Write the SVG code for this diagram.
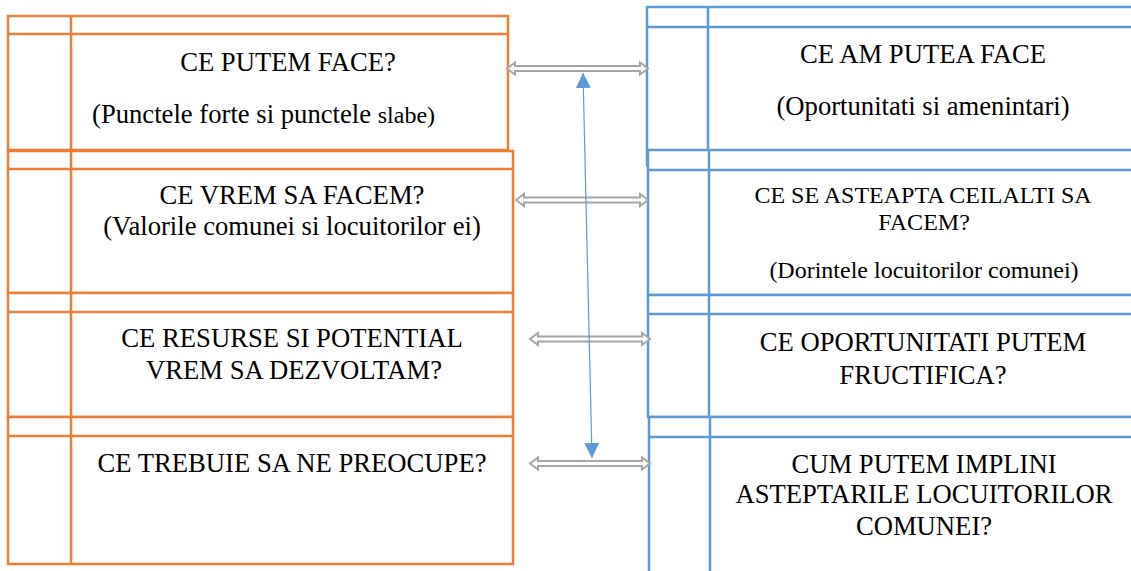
<svg xmlns="http://www.w3.org/2000/svg" width="1131" height="571" viewBox="0 0 1131 571">
<style>
.o{fill:#fff;stroke:#ED7D31;stroke-width:2.5}
.ol{stroke:#ED7D31;stroke-width:2.5}
.b{fill:#fff;stroke:#5B9BD5;stroke-width:2.5}
.bl{stroke:#5B9BD5;stroke-width:2.5}
text{font-family:'Liberation Serif','Tinos','Times New Roman','Nimbus Roman','DejaVu Serif',serif;font-size:26.67px;fill:#000;text-anchor:middle}
.s{font-size:24px}
.ga{fill:#fff;stroke:#A5A5A5;stroke-width:2;stroke-linejoin:miter}
</style>
<defs>
<marker id="tri" viewBox="0 0 15 15" refX="15" refY="7.5" markerWidth="15" markerHeight="15" markerUnits="userSpaceOnUse" orient="auto-start-reverse">
<path d="M0,0 L15,7.5 L0,15 z" fill="#5B9BD5"/>
</marker>
</defs>
<rect width="1131" height="571" fill="#fff"/>
<g id="L1">
<rect class="o" x="8" y="16" width="500" height="134"/>
<line class="ol" x1="8" y1="34" x2="508" y2="34"/>
<line class="ol" x1="71" y1="16" x2="71" y2="150"/>
<text x="288" y="71" font-family="Liberation Serif, serif">CE PUTEM FACE?</text>
<text x="92" y="123" style="text-anchor:start">(Punctele forte si punctele <tspan class="s">slabe)</tspan></text>
</g>
<g id="L2">
<rect class="o" x="8" y="151" width="505" height="142"/>
<line class="ol" x1="8" y1="169" x2="513" y2="169"/>
<line class="ol" x1="71" y1="151" x2="71" y2="293"/>
<text x="292" y="204">CE VREM SA FACEM?</text>
<text x="292" y="235">(Valorile comunei si locuitorilor ei)</text>
</g>
<g id="L3">
<rect class="o" x="8" y="293" width="505" height="124"/>
<line class="ol" x1="8" y1="312" x2="513" y2="312"/>
<line class="ol" x1="71" y1="293" x2="71" y2="417"/>
<text x="292" y="347">CE RESURSE SI POTENTIAL</text>
<text x="294" y="379">VREM SA DEZVOLTAM?</text>
</g>
<g id="L4">
<rect class="o" x="8" y="417" width="505" height="147"/>
<line class="ol" x1="8" y1="436" x2="513" y2="436"/>
<line class="ol" x1="71" y1="417" x2="71" y2="564"/>
<text x="292" y="472">CE TREBUIE SA NE PREOCUPE?</text>
</g>
<g id="R1">
<rect class="b" x="647" y="7" width="520" height="158"/>
<line class="bl" x1="647" y1="27" x2="1140" y2="27"/>
<line class="bl" x1="708" y1="7" x2="708" y2="150"/>
<text x="923" y="63">CE AM PUTEA FACE</text>
<text x="923" y="115">(Oportunitati si amenintari)</text>
</g>
<g id="R2">
<rect class="b" x="648" y="150" width="520" height="145"/>
<line class="bl" x1="648" y1="170" x2="1140" y2="170"/>
<line class="bl" x1="709" y1="150" x2="709" y2="295"/>
<text class="s" x="923" y="203">CE SE ASTEAPTA CEILALTI SA</text>
<text class="s" x="924" y="230">FACEM?</text>
<text class="s" x="924" y="278">(Dorintele locuitorilor comunei)</text>
</g>
<g id="R3">
<rect class="b" x="648" y="295" width="520" height="122"/>
<line class="bl" x1="648" y1="314" x2="1140" y2="314"/>
<line class="bl" x1="709" y1="295" x2="709" y2="417"/>
<text x="923" y="351">CE OPORTUNITATI PUTEM</text>
<text x="923" y="384">FRUCTIFICA?</text>
</g>
<g id="R4">
<rect class="b" x="649" y="417" width="520" height="170"/>
<line class="bl" x1="649" y1="437" x2="1140" y2="437"/>
<line class="bl" x1="710" y1="417" x2="710" y2="580"/>
<text x="924" y="473">CUM PUTEM IMPLINI</text>
<text x="924" y="503">ASTEPTARILE LOCUITORILOR</text>
<text x="924" y="535">COMUNEI?</text>
</g>
<g id="connectors">
<polygon class="ga" points="507,68.5 515,62.5 515,66 640,66 640,62.5 648,68.5 640,74.5 640,71 515,71 515,74.5"/>
<polygon class="ga" points="516,200 524,194 524,197.5 640,197.5 640,194 648,200 640,206 640,202.5 524,202.5 524,206"/>
<polygon class="ga" points="530,339 538,333 538,336.5 642,336.5 642,333 650,339 642,345 642,341.5 538,341.5 538,345"/>
<polygon class="ga" points="530,463.5 538,457.5 538,461 642,461 642,457.5 650,463.5 642,469.5 642,466 538,466 538,469.5"/>
<line x1="583" y1="73" x2="592" y2="458" stroke="#5B9BD5" stroke-width="1.2" marker-start="url(#tri)" marker-end="url(#tri)"/>
</g>
</svg>
